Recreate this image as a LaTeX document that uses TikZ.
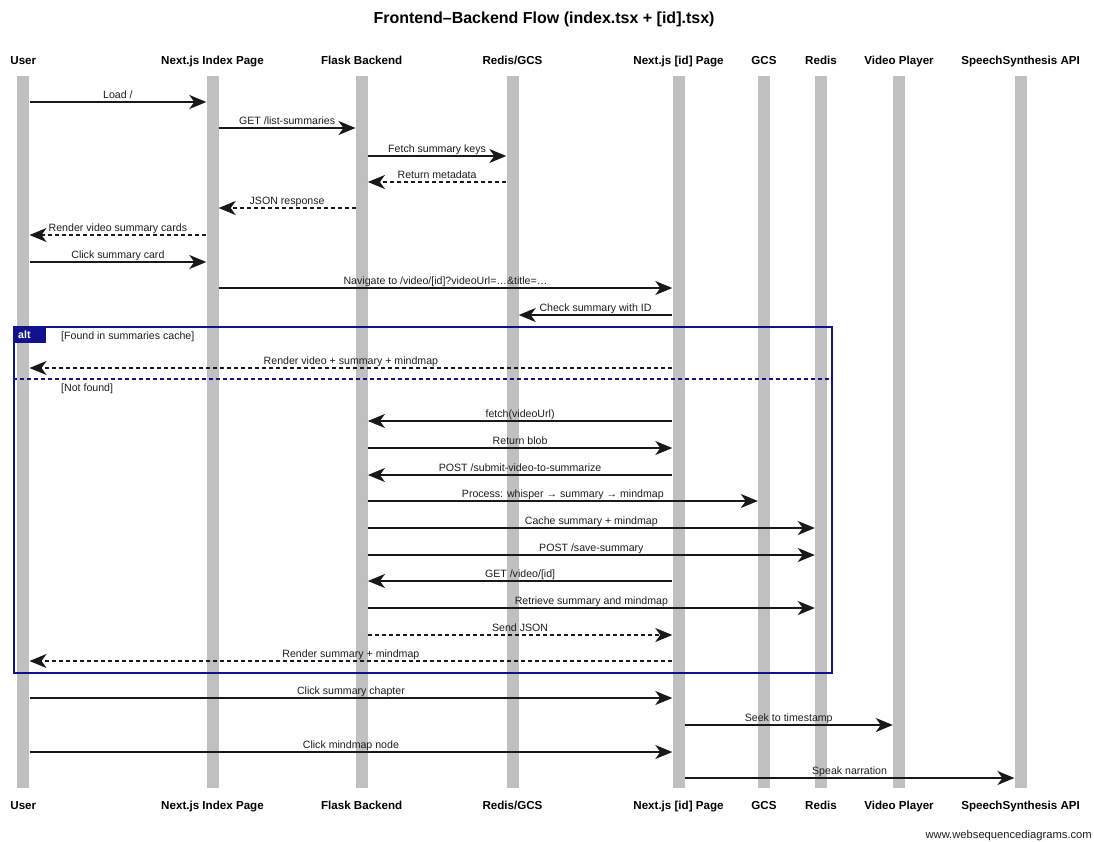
\documentclass[tikz,border=0pt]{standalone}
\usepackage{fontspec}
\setmainfont{Liberation Sans}
\usetikzlibrary{arrows.meta}
\definecolor{bargray}{RGB}{192,192,192}
\definecolor{framenavy}{RGB}{18,18,140}
\definecolor{txtgray}{RGB}{30,30,30}
\begin{document}
\begin{tikzpicture}[x=1pt,y=-1pt,
  bar/.style={fill=bargray, draw=none, inner sep=0pt, minimum width=12pt, minimum height=712pt},
  plabel/.style={font=\fontsize{11.6}{13}\selectfont\bfseries, anchor=base, inner sep=0pt},
  msg/.style={line width=1.7pt, draw=black!90, -{Stealth[length=17pt,width=14pt,inset=5pt]}},
  reply/.style={msg, dash pattern=on 4pt off 3pt},
  lbl/.style={font=\fontsize{10.6}{12}\selectfont, text=txtgray, inner sep=0.8pt, text height=7.6pt, text depth=2pt, anchor=south},
  cond/.style={font=\fontsize{10.6}{12}\selectfont, text=txtgray, anchor=base west, inner sep=0pt},
  frame/.style={draw=framenavy, line width=2pt, inner sep=0pt, anchor=north west},
  alttab/.style={fill=framenavy, draw=framenavy, inner sep=0pt, minimum width=32pt, minimum height=16pt, anchor=north west}
]
\useasboundingbox (0,0) rectangle (1094,841);
\fill[white] (0,0) rectangle (1094,841);

% title
\node[font=\fontsize{16}{18}\selectfont\bfseries, inner sep=0pt] (title) at (544,19) {Frontend–Backend Flow (index.tsx + [id].tsx)};

% lifeline bars
\node[bar] (bUser)  at (23.3,432) {};
\node[bar] (bIndex) at (212.5,432) {};
\node[bar] (bFlask) at (361.7,432) {};
\node[bar] (bRG)    at (512.5,432) {};
\node[bar] (bID)    at (678.5,432) {};
\node[bar] (bGCS)   at (764,432) {};
\node[bar] (bRedis) at (821,432) {};
\node[bar] (bVP)    at (899,432) {};
\node[bar] (bSS)    at (1020.6,432) {};

% participant labels (top)
\node[plabel] (tUser)  at (23.3,64) {User};
\node[plabel] (tIndex) at (212.5,64) {Next.js Index Page};
\node[plabel] (tFlask) at (361.7,64) {Flask Backend};
\node[plabel] (tRG)    at (512.5,64) {Redis/GCS};
\node[plabel] (tID)    at (678.5,64) {Next.js [id] Page};
\node[plabel] (tGCS)   at (764,64) {GCS};
\node[plabel] (tRedis) at (821,64) {Redis};
\node[plabel] (tVP)    at (899,64) {Video Player};
\node[plabel] (tSS)    at (1020.6,64) {SpeechSynthesis API};
% participant labels (bottom)
\node[plabel] (fUser)  at (23.3,809) {User};
\node[plabel] (fIndex) at (212.5,809) {Next.js Index Page};
\node[plabel] (fFlask) at (361.7,809) {Flask Backend};
\node[plabel] (fRG)    at (512.5,809) {Redis/GCS};
\node[plabel] (fID)    at (678.5,809) {Next.js [id] Page};
\node[plabel] (fGCS)   at (764,809) {GCS};
\node[plabel] (fRedis) at (821,809) {Redis};
\node[plabel] (fVP)    at (899,809) {Video Player};
\node[plabel] (fSS)    at (1020.6,809) {SpeechSynthesis API};

% alt frame
\node[frame, minimum width=818pt, minimum height=346pt] (alt) at (12.7,325.7) {};
\node[alttab] (tab) at (alt.north west) {};
\node[font=\fontsize{10.6}{12}\selectfont\bfseries, text=white, anchor=base west, inner sep=0pt] (tabtxt) at (18,338.5) {alt};
\node[cond] (c1) at (61,339) {[Found in summaries cache]};
\draw[framenavy, line width=2pt, dash pattern=on 4pt off 3pt] (alt.west |- 0,379.3) -- (alt.east |- 0,379.3);
\node[cond] (c2) at (61,391) {[Not found]};

% messages
\draw[msg]   (bUser.east |- 0,102)   -- node[lbl] {Load /} (bIndex.west |- 0,102);
\draw[msg]   (bIndex.east |- 0,128)  -- node[lbl] {GET /list-summaries} (bFlask.west |- 0,128);
\draw[msg]   (bFlask.east |- 0,156)  -- node[lbl] {Fetch summary keys} (bRG.west |- 0,156);
\draw[reply] (bRG.west |- 0,182)     -- node[lbl] {Return metadata} (bFlask.east |- 0,182);
\draw[reply] (bFlask.west |- 0,208)  -- node[lbl] {JSON response} (bIndex.east |- 0,208);
\draw[reply] (bIndex.west |- 0,235)  -- node[lbl] {Render video summary cards} (bUser.east |- 0,235);
\draw[msg]   (bUser.east |- 0,262)   -- node[lbl] {Click summary card} (bIndex.west |- 0,262);
\draw[msg]   (bIndex.east |- 0,288)  -- node[lbl] {Navigate to /video/[id]?videoUrl=…\&title=…} (bID.west |- 0,288);
\draw[msg]   (bID.west |- 0,315)     -- node[lbl] {Check summary with ID} (bRG.east |- 0,315);
\draw[reply] (bID.west |- 0,368)     -- node[lbl] {Render video + summary + mindmap} (bUser.east |- 0,368);
\draw[msg]   (bID.west |- 0,421)     -- node[lbl] {fetch(videoUrl)} (bFlask.east |- 0,421);
\draw[msg]   (bFlask.east |- 0,448)  -- node[lbl] {Return blob} (bID.west |- 0,448);
\draw[msg]   (bID.west |- 0,475)     -- node[lbl] {POST /submit-video-to-summarize} (bFlask.east |- 0,475);
\draw[msg]   (bFlask.east |- 0,501)  -- node[lbl] {Process: whisper → summary → mindmap} (bGCS.west |- 0,501);
\draw[msg]   (bFlask.east |- 0,528)  -- node[lbl] {Cache summary + mindmap} (bRedis.west |- 0,528);
\draw[msg]   (bFlask.east |- 0,555)  -- node[lbl] {POST /save-summary} (bRedis.west |- 0,555);
\draw[msg]   (bID.west |- 0,581)     -- node[lbl] {GET /video/[id]} (bFlask.east |- 0,581);
\draw[msg]   (bFlask.east |- 0,608)  -- node[lbl] {Retrieve summary and mindmap} (bRedis.west |- 0,608);
\draw[reply] (bFlask.east |- 0,635)  -- node[lbl] {Send JSON} (bID.west |- 0,635);
\draw[reply] (bID.west |- 0,661)     -- node[lbl] {Render summary + mindmap} (bUser.east |- 0,661);
\draw[msg]   (bUser.east |- 0,698)   -- node[lbl] {Click summary chapter} (bID.west |- 0,698);
\draw[msg]   (bID.east |- 0,725)     -- node[lbl] {Seek to timestamp} (bVP.west |- 0,725);
\draw[msg]   (bUser.east |- 0,752)   -- node[lbl] {Click mindmap node} (bID.west |- 0,752);
\draw[msg]   (bID.east |- 0,778)     -- node[lbl] {Speak narration} (bSS.west |- 0,778);

% watermark
\node[font=\fontsize{11.2}{13}\selectfont, text=txtgray, anchor=base east, inner sep=0pt] (wm) at (1092,838) {www.websequencediagrams.com};
\end{tikzpicture}
\end{document}
